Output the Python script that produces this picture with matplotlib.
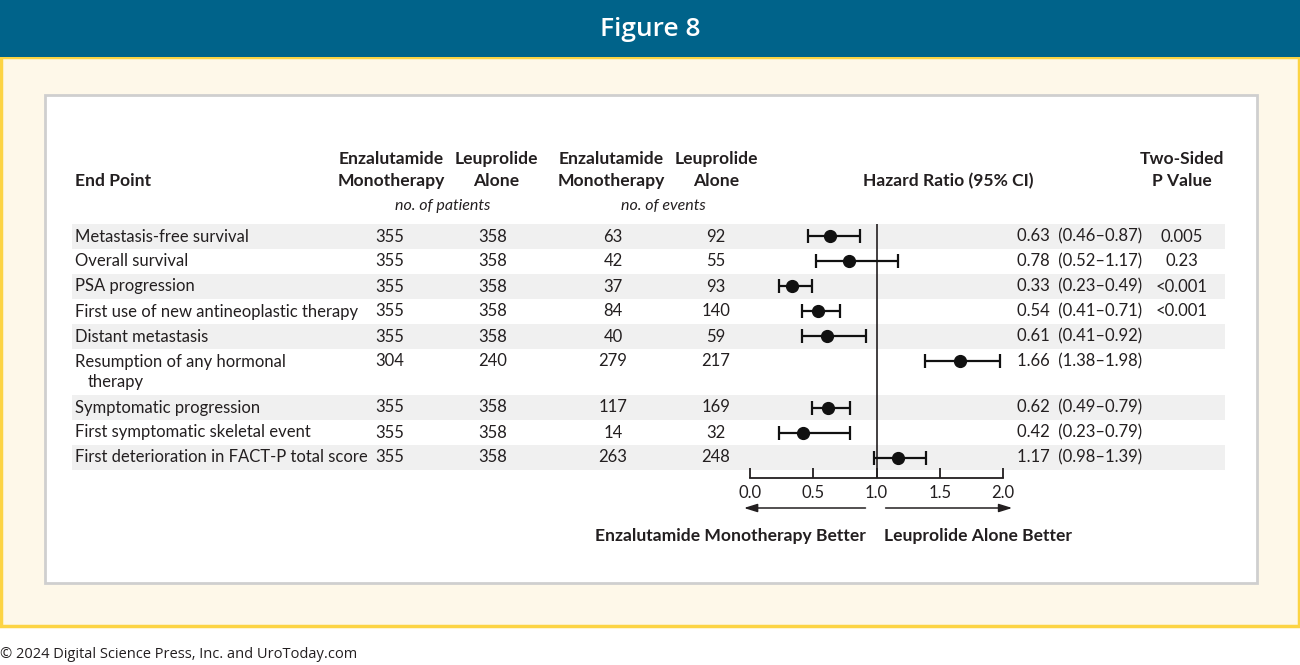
import numpy as np
import matplotlib
matplotlib.use("Agg")
import matplotlib.pyplot as plt
from matplotlib.patches import Rectangle

# data
endpoints = ["Metastasis-free survival", "Overall survival", "PSA progression",
             "First use of new antineoplastic therapy", "Distant metastasis",
             "Resumption of any hormonal\ntherapy", "Symptomatic progression",
             "First symptomatic skeletal event", "First deterioration in FACT-P total score"]
enz_patients = [355, 355, 355, 355, 355, 304, 355, 355, 355]
leu_patients = [358, 358, 358, 358, 358, 240, 358, 358, 358]
enz_events = [63, 42, 37, 84, 40, 279, 117, 14, 263]
leu_events = [92, 55, 93, 140, 59, 217, 169, 32, 248]
hr = [0.63, 0.78, 0.33, 0.54, 0.61, 1.66, 0.62, 0.42, 1.17]
hr_lo = [0.46, 0.52, 0.23, 0.41, 0.41, 1.38, 0.49, 0.23, 0.98]
hr_hi = [0.87, 1.17, 0.49, 0.71, 0.92, 1.98, 0.79, 0.79, 1.39]
p_values = ["0.005", "0.23", "<0.001", "<0.001", "", "", "", "", ""]
xticks = [0.0, 0.5, 1.0, 1.5, 2.0]

W, H = 1300, 665
TEAL = "#00638a"
CREAM = "#fef8e9"
YELLOW = "#fcd444"
INK = "#231f20"
SHADE = "#f0f0f0"
FONT = "Lato"

fig = plt.figure(figsize=(W / 100, H / 100), dpi=100)
fig.patch.set_facecolor("white")

bg = fig.add_axes([0, 0, 1, 1])
bg.set_xlim(0, W)
bg.set_ylim(H, 0)
bg.axis("off")

# frame: header bar, cream area, white panel
bg.add_patch(Rectangle((1, 57), W - 2, 569, facecolor=CREAM, edgecolor=YELLOW, lw=2.5))
bg.add_patch(Rectangle((0, 0), W, 57, facecolor=TEAL, edgecolor="none"))
bg.add_patch(Rectangle((45, 95), 1212, 488, facecolor="white", edgecolor="#cfcfcf", lw=2))
bg.text(W / 2, 29, "Figure 8", color="white", fontsize=19, family="Open Sans",
        fontweight="semibold", ha="center", va="center")
bg.text(0, 654, "\u00a9 2024 Digital Science Press, Inc. and UroToday.com", color=INK,
        fontsize=10.5, family="Open Sans", ha="left", va="center")

# column headers
hd = dict(fontsize=12.6, family=FONT, fontweight="bold", color=INK, va="center")
bg.text(75, 181, "End Point", ha="left", **hd)
for cx, t1, t2 in [(391, "Enzalutamide", "Monotherapy"), (496, "Leuprolide", "Alone"),
                   (611, "Enzalutamide", "Monotherapy"), (716, "Leuprolide", "Alone"),
                   (1182, "Two-Sided", "P Value")]:
    bg.text(cx, 159, t1, ha="center", **hd)
    bg.text(cx, 181, t2, ha="center", **hd)
bg.text(948, 181, "Hazard Ratio (95% CI)", ha="center", **hd)
it = dict(fontsize=11.5, family=FONT, style="italic", color=INK, va="center", ha="center")
bg.text(443, 206, "no. of patients", **it)
bg.text(663, 206, "no. of events", **it)

# rows
tx = dict(fontsize=12, family=FONT, color=INK, va="center")
top = 224
row_y = []
for i, name in enumerate(endpoints):
    lines = name.split("\n")
    h = 25 + 21 * (len(lines) - 1)
    if i % 2 == 0:
        bg.add_patch(Rectangle((72, top), 1153, h, facecolor=SHADE, edgecolor="none"))
    y = top + 12.5
    row_y.append(y)
    bg.text(75, y, lines[0], ha="left", **tx)
    for k, extra in enumerate(lines[1:]):
        bg.text(88, y + 20 * (k + 1), extra, ha="left", **tx)
    bg.text(390, y, str(enz_patients[i]), ha="center", **tx)
    bg.text(493, y, str(leu_patients[i]), ha="center", **tx)
    bg.text(613, y, str(enz_events[i]), ha="center", **tx)
    bg.text(716, y, str(leu_events[i]), ha="center", **tx)
    bg.text(1017, y, "%.2f  (%.2f\u2013%.2f)" % (hr[i], hr_lo[i], hr_hi[i]), ha="left", **tx)
    bg.text(1182, y, p_values[i], ha="center", **tx)
    top += h

# forest plot axes; y in pixel units so rows line up with the table
x0, x1, y0, y1 = 750, 1003, 224, 478
ax = fig.add_axes([x0 / W, 1 - y1 / H, (x1 - x0) / W, (y1 - y0) / H])
ax.patch.set_alpha(0)
ax.set_xlim(0, 2)
ax.set_ylim(y1, y0)
for s in ["left", "right", "top"]:
    ax.spines[s].set_visible(False)
ax.spines["bottom"].set_linewidth(1.3)
ax.spines["bottom"].set_color(INK)
ax.set_yticks([])
ax.set_xticks(xticks)
ax.set_xticklabels(["%.1f" % t for t in xticks], fontsize=12, family=FONT, color=INK)
ax.tick_params(axis="x", direction="in", length=7, width=1.3, pad=5, colors=INK)
ax.axvline(1.0, color=INK, lw=1.2)

hr_a = np.array(hr)
err = [hr_a - np.array(hr_lo), np.array(hr_hi) - hr_a]
ax.errorbar(hr_a, row_y, xerr=err, fmt="o", color="#111111", ms=8.5, lw=1.6,
            capsize=5, capthick=1.6, clip_on=False)

# direction arrows
arr = dict(arrowstyle="-|>,head_length=0.8,head_width=0.25", color=INK, lw=1.1)
ax.annotate("", xy=(-0.07, 508), xytext=(0.935, 508), arrowprops=arr, annotation_clip=False)
ax.annotate("", xy=(2.095, 508), xytext=(1.05, 508), arrowprops=arr, annotation_clip=False)
bg.text(866, 536, "Enzalutamide Monotherapy Better", ha="right", **hd)
bg.text(884, 536, "Leuprolide Alone Better", ha="left", **hd)

fig.savefig("out.png", dpi=100)
